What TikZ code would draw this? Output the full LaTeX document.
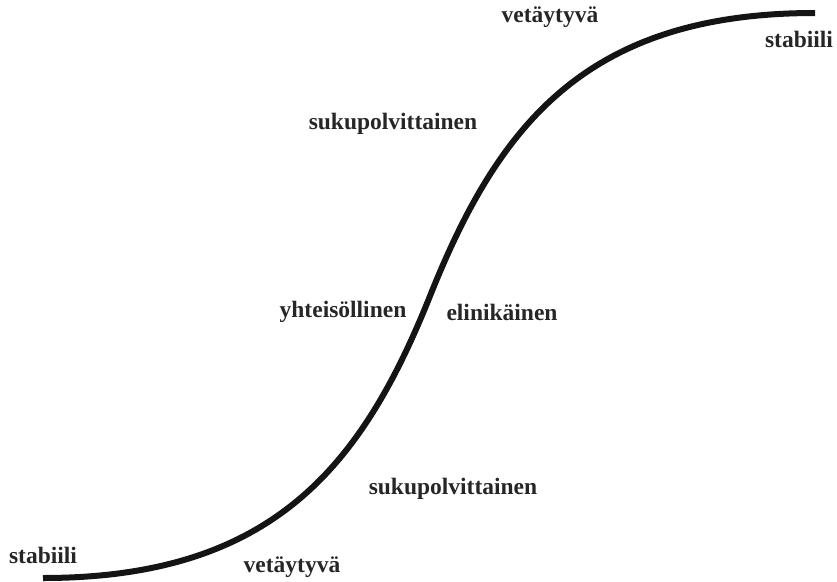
\documentclass[tikz,border=0pt]{standalone}
\usepackage{fontspec}
\setmainfont{Liberation Serif}
\usetikzlibrary{positioning}

\begin{document}
\begin{tikzpicture}[
  x=1pt, y=-1pt,
  every node/.style={font=\fontsize{23.5}{27}\selectfont\bfseries},
  phase/.style={text=black!85, inner sep=0pt},
  curve/.style={line width=6pt, black!92}
]
  \useasboundingbox (0,0) rectangle (837,581);

  % End points and turning point of the S-curve
  \coordinate (low) at (43,578);
  \coordinate (turn) at (430,296);
  \coordinate (high) at (815,13);

  % Phase labels (bottom to top)
  \node[phase] (stabLow) at (43,555) {stabiili};
  \node[phase] (vetLow) at (292,567) {vetäytyvä};
  \node[phase] (sukLow) at (453,489) {sukupolvittainen};
  \node[phase] (yht) at (343,312) {yhteisöllinen};
  \node[phase] (eli) at (502,312) {elinikäinen};
  \node[phase] (sukHigh) at (393,124) {sukupolvittainen};
  \node[phase] (vetHigh) at (550,17) {vetäytyvä};
  \node[phase] (stabHigh) at (799,39) {stabiili};

  % Curve
  \draw[curve] (low) .. controls (273,578) and (362,466) .. (turn)
                     .. controls (498,126) and (585,13) .. (high);
\end{tikzpicture}
\end{document}
